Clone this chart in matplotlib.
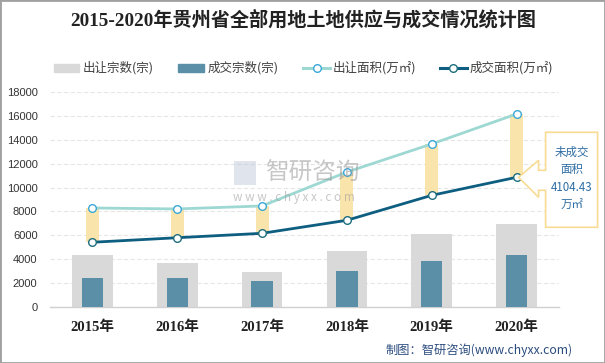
import matplotlib
matplotlib.use('Agg')
import matplotlib.pyplot as plt
from matplotlib.patches import Rectangle, Polygon
from matplotlib.lines import Line2D
from matplotlib.transforms import IdentityTransform

plt.rcParams['font.family'] = ['Noto Sans CJK SC', 'DejaVu Sans']

# ---------------- data ----------------
years = ['2015年', '2016年', '2017年', '2018年', '2019年', '2020年']
supply_count = [4380, 3710, 2960, 4690, 6110, 6950]      # 出让宗数(宗)
deal_count = [2450, 2450, 2200, 3040, 3850, 4380]        # 成交宗数(宗)
supply_area = [8290, 8210, 8460, 11300, 13650, 16160]    # 出让面积(万㎡)
deal_area = [5420, 5800, 6170, 7260, 9350, 10860]        # 成交面积(万㎡)
series_names = ['出让宗数(宗)', '成交宗数(宗)', '出让面积(万㎡)', '成交面积(万㎡)']
yticks = [0, 2000, 4000, 6000, 8000, 10000, 12000, 14000, 16000, 18000]
title = '2015-2020年贵州省全部用地土地供应与成交情况统计图'
note = '未成交\n面积\n4104.43\n万㎡'
source = '制图：智研咨询(www.chyxx.com)'

# ---------------- style ----------------
C_LIGHT = '#D9D9D9'
C_DARK = '#5B8FA8'
C_SUP = '#9ED8D3'
C_DEAL = '#0D5E80'
C_SUP_M = '#3AA8D8'
C_DEAL_M = '#1E6E7E'
C_GAP = '#F9E3A8'

W, H = 605, 363
fig = plt.figure(figsize=(W / 100, H / 100), dpi=100)
fig.patch.set_facecolor('white')

def fx(px):
    return px / W

def fy(py):
    return 1 - py / H

ax = fig.add_axes([fx(50), fy(307), (559 - 50) / W, (307 - 92) / H])
x = list(range(len(years)))

ax.bar(x, supply_count, width=0.48, color=C_LIGHT, zorder=2)
ax.bar(x, deal_count, width=0.25, color=C_DARK, zorder=3)

for i in x:
    ax.add_patch(Rectangle((i - 0.077, deal_area[i]), 0.154,
                           supply_area[i] - deal_area[i],
                           facecolor=C_GAP, edgecolor='none', alpha=0.95, zorder=4))

ax.plot(x, supply_area, color=C_SUP, lw=2.0, zorder=5)
ax.plot(x, deal_area, color=C_DEAL, lw=2.0, zorder=5)
ax.plot(x, supply_area, ls='none', marker='o', ms=5.5, mfc='white',
        mec=C_SUP_M, mew=1.0, zorder=6)
ax.plot(x, deal_area, ls='none', marker='o', ms=5.5, mfc='white',
        mec=C_DEAL_M, mew=1.0, zorder=6)

ax.set_xlim(-0.5, len(years) - 0.5)
ax.set_ylim(0, 18000)
ax.set_yticks(yticks)
ax.set_yticklabels([str(v) for v in yticks], fontsize=8, color='#333333',
                   family=['Liberation Sans', 'DejaVu Sans'])
ax.set_xticks(x)
ax.set_xticklabels(years, fontsize=10.5, fontweight='bold', color='#222222',
                   family=['Liberation Serif', 'Noto Sans CJK SC'])
ax.tick_params(axis='both', length=0)
ax.tick_params(axis='x', pad=10)
ax.tick_params(axis='y', pad=9)
ax.grid(axis='y', color='#E6E6E6', lw=0.8, ls=(0, (4, 2)), zorder=0)
for s in ['top', 'right', 'left']:
    ax.spines[s].set_visible(False)
ax.spines['bottom'].set_color('#D0D0D0')
ax.spines['bottom'].set_linewidth(1.0)

# ---------------- title ----------------
fig.text(fx(303), fy(20), title, ha='center', va='center', fontsize=13.8,
         fontweight='bold', color='#222222',
         family=['Liberation Serif', 'Noto Sans CJK SC'])

# ---------------- legend ----------------
ly = 68
fig.patches.append(Rectangle((fx(54), fy(ly + 4)), (79 - 54) / W, 8 / H,
                             transform=fig.transFigure, color=C_LIGHT))
fig.text(fx(83), fy(ly), series_names[0], ha='left', va='center',
         fontsize=9, color='#404040')
fig.patches.append(Rectangle((fx(178), fy(ly + 4)), (204 - 178) / W, 8 / H,
                             transform=fig.transFigure, color=C_DARK))
fig.text(fx(208), fy(ly), series_names[1], ha='left', va='center',
         fontsize=9, color='#404040')
fig.lines.append(Line2D([fx(303), fx(330)], [fy(ly), fy(ly)], color=C_SUP,
                        lw=2.2, transform=fig.transFigure))
fig.lines.append(Line2D([fx(317)], [fy(ly)], marker='o', ms=5.5, mfc='white',
                        mec=C_SUP_M, mew=1.0, transform=fig.transFigure))
fig.text(fx(333), fy(ly), series_names[2], ha='left', va='center',
         fontsize=9, color='#404040')
fig.lines.append(Line2D([fx(440), fx(467)], [fy(ly), fy(ly)], color=C_DEAL,
                        lw=2.2, transform=fig.transFigure))
fig.lines.append(Line2D([fx(453)], [fy(ly)], marker='o', ms=5.5, mfc='white',
                        mec=C_DEAL_M, mew=1.0, transform=fig.transFigure))
fig.text(fx(470), fy(ly), series_names[3], ha='left', va='center',
         fontsize=9, color='#404040')

# ---------------- watermark ----------------
fig.text(fx(265), fy(173), '智研咨询', ha='left', va='center', fontsize=17,
         color='#9A9A9A', alpha=0.55, zorder=1)
fig.text(fx(233), fy(197), 'w w w . c h y x x . c o m', ha='left', va='center',
         fontsize=8.5, color='#9A9A9A', alpha=0.55, zorder=1)
fig.patches.append(Rectangle((fx(234), fy(185)), 22 / W, 24 / H,
                             transform=fig.transFigure, facecolor='#B8C4D8',
                             alpha=0.45, edgecolor='none', zorder=1))

# ---------------- callout ----------------
px, py = ax.transData.transform((x[-1], deal_area[-1]))
offs = [(29, 45), (81, 45), (81, -50), (29, -50), (29, -13), (22, -13),
        (22, -20), (2, 0), (22, 17), (22, 7), (29, 7)]
verts = [(px + dx, py + dy) for dx, dy in offs]
fig.patches.append(Polygon(verts, closed=True, facecolor='white',
                           edgecolor='#F8DC94', lw=1.2,
                           transform=IdentityTransform(), zorder=7))
fig.text(px + 55, py - 1, note, transform=IdentityTransform(),
         ha='center', va='center', fontsize=8.3, color='#2E6DA4',
         linespacing=1.45, zorder=9)

# ---------------- source ----------------
fig.text(fx(385), fy(350), source, ha='left', va='center', fontsize=8.8,
         color='#2B4C7E')

# ---------------- frame ----------------
fig.patches.append(Rectangle((0, 0), 1, 1, transform=fig.transFigure,
                             fill=False, edgecolor='#A0A0A0', lw=2.0))

fig.savefig('out.png', dpi=100)
